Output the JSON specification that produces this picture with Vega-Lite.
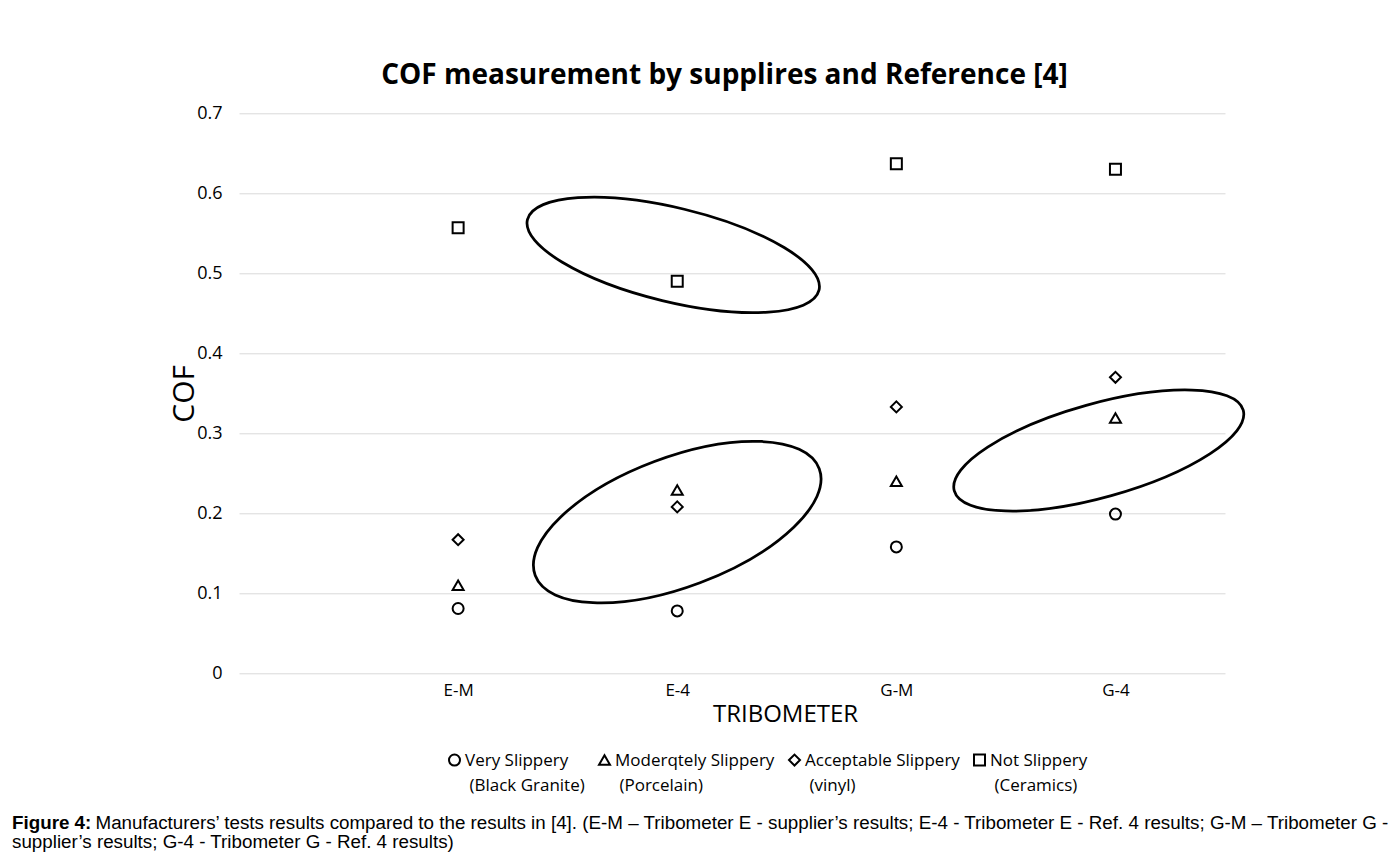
{
  "$schema": "https://vega.github.io/schema/vega-lite/v6.json",
  "width": 986,
  "height": 560,
  "autosize": {"type": "none"},
  "padding": {"left": 239, "top": 113.3, "right": 173, "bottom": 189.7},
  "background": "white",
  "config": {"font": "Open Sans", "view": {"stroke": null}, "style": {"guide-label": {"lineHeight": 25, "dy": 6}}},
  "title": {
    "text": "Figure 4:",
    "subtitle": [
      "\u200b\u00a0\u00a0\u00a0\u00a0\u00a0\u00a0\u00a0\u00a0\u00a0\u00a0\u00a0\u00a0\u00a0\u00a0\u00a0\u00a0Manufacturers’ tests results compared to the results in [4]. (E-M – Tribometer E - supplier’s results; E-4 - Tribometer E - Ref. 4 results; G-M – Tribometer G -",
      "supplier’s results; G-4 - Tribometer G - Ref. 4 results)"
    ],
    "orient": "bottom",
    "anchor": "start",
    "frame": "group",
    "dx": -227,
    "offset": 20,
    "font": "Liberation Sans",
    "fontSize": 18.8,
    "fontWeight": "bold",
    "color": "black",
    "subtitleFont": "Liberation Sans",
    "subtitleFontSize": 18.8,
    "subtitleColor": "black",
    "subtitlePadding": -18.8,
    "subtitleLineHeight": 19
  },
  "resolve": {"axis": {"x": "independent"}},
  "layer": [
    {
      "data": {"values": [
        {"tribometer": "E-M", "type": "Very Slippery (Black Granite)", "cof": 0.081},
        {"tribometer": "E-4", "type": "Very Slippery (Black Granite)", "cof": 0.078},
        {"tribometer": "G-M", "type": "Very Slippery (Black Granite)", "cof": 0.158},
        {"tribometer": "G-4", "type": "Very Slippery (Black Granite)", "cof": 0.199},
        {"tribometer": "E-M", "type": "Moderqtely Slippery (Porcelain)", "cof": 0.11},
        {"tribometer": "E-4", "type": "Moderqtely Slippery (Porcelain)", "cof": 0.229},
        {"tribometer": "G-M", "type": "Moderqtely Slippery (Porcelain)", "cof": 0.24},
        {"tribometer": "G-4", "type": "Moderqtely Slippery (Porcelain)", "cof": 0.319},
        {"tribometer": "E-M", "type": "Acceptable Slippery (vinyl)", "cof": 0.167},
        {"tribometer": "E-4", "type": "Acceptable Slippery (vinyl)", "cof": 0.208},
        {"tribometer": "G-M", "type": "Acceptable Slippery (vinyl)", "cof": 0.333},
        {"tribometer": "G-4", "type": "Acceptable Slippery (vinyl)", "cof": 0.37},
        {"tribometer": "E-M", "type": "Not Slippery (Ceramics)", "cof": 0.557},
        {"tribometer": "E-4", "type": "Not Slippery (Ceramics)", "cof": 0.49},
        {"tribometer": "G-M", "type": "Not Slippery (Ceramics)", "cof": 0.637},
        {"tribometer": "G-4", "type": "Not Slippery (Ceramics)", "cof": 0.63}
      ]},
      "mark": {"type": "point", "filled": false, "stroke": "black", "color": "black", "strokeWidth": 2, "size": 121, "opacity": 1},
      "encoding": {
        "x": {
          "field": "tribometer", "type": "nominal",
          "scale": {"type": "point", "domain": ["E-M", "E-4", "G-M", "G-4"], "padding": 0.75, "align": 0.6667},
          "axis": {"orient": "bottom", "title": "TRIBOMETER", "labelAngle": 0, "domain": false, "ticks": false, "grid": false,
                   "labelFontSize": 17, "labelPadding": 3, "labelColor": "black", "titleFontSize": 24, "titleFontWeight": "normal",
                   "titlePadding": 4, "titleColor": "black", "titleX": 546}
        },
        "y": {
          "field": "cof", "type": "quantitative",
          "scale": {"domain": [0, 0.7], "nice": false, "zero": true},
          "axis": {"title": "COF", "values": [0, 0.1, 0.2, 0.3, 0.4, 0.5, 0.6, 0.7],
                   "labelExpr": "datum.value == 0 ? '0' : format(datum.value, '.1f')",
                   "domain": false, "ticks": false, "gridColor": "#d9d9d9", "gridWidth": 1,
                   "labelFontSize": 18, "labelPadding": 17, "labelColor": "black", "labelOffset": -6,
                   "titleFontSize": 30, "titleFontWeight": "normal", "titleColor": "black", "titlePadding": -3}
        },
        "shape": {
          "field": "type", "type": "nominal",
          "scale": {"domain": ["Very Slippery (Black Granite)", "Moderqtely Slippery (Porcelain)", "Acceptable Slippery (vinyl)", "Not Slippery (Ceramics)"],
                    "range": ["circle", "triangle-up", "diamond", "square"]},
          "legend": {
            "orient": "none", "legendX": 207, "legendY": 638, "direction": "horizontal", "columns": 4,
            "title": null, "padding": 0, "labelFontSize": 17, "labelColor": "black", "labelLimit": 0,
            "labelExpr": "[slice(datum.label, 0, indexof(datum.label, ' (')), '\u200b\u00a0' + slice(datum.label, indexof(datum.label, ' (') + 1)]",
            "labelBaseline": "alphabetic", "labelOffset": 2,
            "symbolSize": 121, "symbolStrokeWidth": 2, "symbolStrokeColor": "black", "symbolFillColor": "transparent",
            "columnPadding": 10
          }
        }
      }
    },
    {
      "data": {"values": [{"tribometer": "E-4", "cof": 0.523}]},
      "mark": {"type": "point", "filled": false, "stroke": "black", "strokeWidth": 2.75, "opacity": 1, "size": 90000, "angle": 13.6,
               "shape": "M 0.974 0.0063 C 0.974 0.1793 0.5263 0.3196 -0.026 0.3196 C -0.5783 0.3196 -1.026 0.1793 -1.026 0.0063 C -1.026 -0.1667 -0.5783 -0.307 -0.026 -0.307 C 0.5263 -0.307 0.974 -0.1667 0.974 0.0063 Z"},
      "encoding": {
        "x": {"field": "tribometer", "type": "nominal",
              "axis": {"orient": "top", "title": "COF measurement by supplires and Reference [4]", "labels": false, "ticks": false, "domain": false, "grid": false,
                       "titleFontSize": 28, "titleFontWeight": "bold", "titleColor": "black", "titlePadding": 24, "titleX": 485}},
        "y": {"field": "cof", "type": "quantitative"}
      }
    },
    {
      "data": {"values": [{"tribometer": "E-4", "cof": 0.189}]},
      "mark": {"type": "point", "filled": false, "stroke": "black", "strokeWidth": 2.75, "opacity": 1, "size": 92052, "angle": -20.6,
               "shape": "M 1 0 C 1 0.2358 0.5523 0.427 0 0.427 C -0.5523 0.427 -1 0.2358 -1 0 C -1 -0.2358 -0.5523 -0.427 0 -0.427 C 0.5523 -0.427 1 -0.2358 1 0 Z"},
      "encoding": {
        "x": {"field": "tribometer", "type": "nominal", "axis": null},
        "y": {"field": "cof", "type": "quantitative"}
      }
    },
    {
      "data": {"values": [{"tribometer": "G-4", "cof": 0.2785}]},
      "mark": {"type": "point", "filled": false, "stroke": "black", "strokeWidth": 2.75, "opacity": 1, "size": 90000, "angle": -15.6,
               "shape": "M 0.8928 -0.0299 C 0.8928 0.1428 0.4451 0.2828 -0.1072 0.2828 C -0.6595 0.2828 -1.1072 0.1428 -1.1072 -0.0299 C -1.1072 -0.2026 -0.6595 -0.3426 -0.1072 -0.3426 C 0.4451 -0.3426 0.8928 -0.2026 0.8928 -0.0299 Z"},
      "encoding": {
        "x": {"field": "tribometer", "type": "nominal", "axis": null},
        "y": {"field": "cof", "type": "quantitative"}
      }
    }
  ]
}
